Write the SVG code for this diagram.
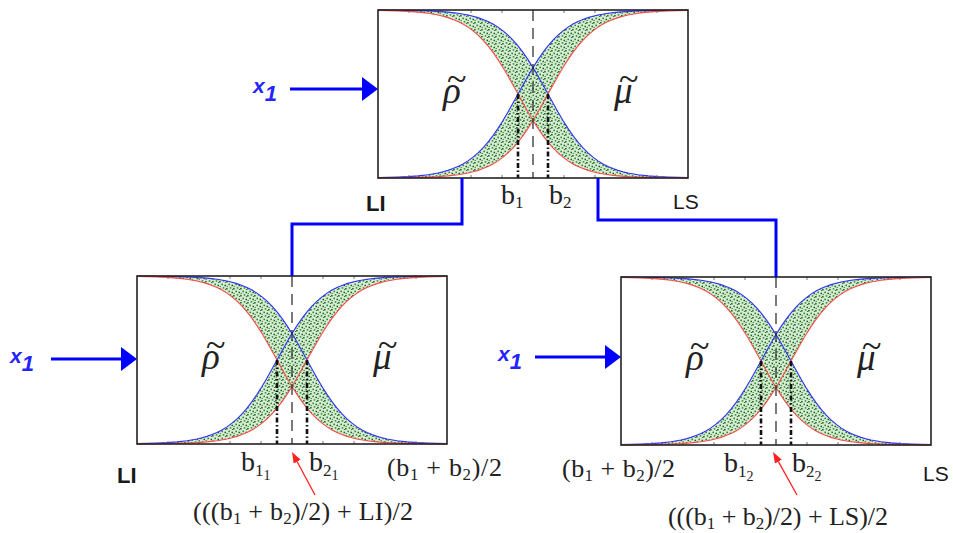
<svg xmlns="http://www.w3.org/2000/svg" xmlns:xlink="http://www.w3.org/1999/xlink" width="953" height="533" viewBox="0 0 953 533">
<style>
.lbl{font-family:"Liberation Serif","Times New Roman",serif;font-size:28px;fill:#222}
.frm{font-family:"Liberation Serif","Times New Roman",serif;font-size:26px;fill:#222}
.sub{font-size:17px}
.sub2{font-size:14px}
.sans{font-family:"Liberation Sans",Arial,sans-serif;font-size:20px;fill:#1a1a1a}
.bold{font-weight:bold}
.x1{font-family:"Liberation Sans",Arial,sans-serif;font-weight:bold;font-style:italic;fill:#2424ff;font-size:21px}
.greek{font-family:"Liberation Serif","Times New Roman",serif;font-style:italic;font-size:37px;fill:#222}
.tilde{font-family:"Liberation Serif","Times New Roman",serif;font-size:36px;fill:#222}
.blue{fill:none;stroke:#3030ff;stroke-width:1.1}
.red{fill:none;stroke:#ff4a4a;stroke-width:1.1}
.bline{stroke:#111;stroke-width:2.6;stroke-dasharray:5 2.5 1.5 2.5}
.cline{stroke:#222;stroke-width:1.2;stroke-dasharray:11 7}
.tick{stroke:#777;stroke-width:1}
</style>
<defs>
<pattern id="st1" width="7" height="7" patternUnits="userSpaceOnUse">
<rect width="7" height="7" fill="#d9ebd6"/>
<rect x="0.4" y="0.6" width="1.6" height="1.6" fill="#2a8a2a"/>
<rect x="3.5" y="1.7" width="1.5" height="1.5" fill="#146214"/>
<rect x="1.7" y="4.1" width="1.6" height="1.6" fill="#339533"/>
<rect x="5.1" y="5.0" width="1.5" height="1.5" fill="#146214"/>
<rect x="5.6" y="2.9" width="1.2" height="1.2" fill="#2a8a2a"/>
<rect x="3.9" y="6.1" width="1.2" height="0.9" fill="#1d731d"/>
</pattern>
<pattern id="st2" width="11" height="11" patternUnits="userSpaceOnUse">
<rect x="2.3" y="2.9" width="1.6" height="1.6" fill="#0f5a0f"/>
<rect x="7.5" y="0.3" width="1.4" height="1.4" fill="#2f8f2f"/>
<rect x="8.9" y="7.6" width="1.6" height="1.6" fill="#0f5a0f"/>
<rect x="4.8" y="8.3" width="1.4" height="1.4" fill="#2f8f2f"/>
<rect x="0.2" y="6.1" width="1.5" height="1.5" fill="#1f6f1f"/>
<rect x="6.2" y="4.6" width="1.3" height="1.3" fill="#1f6f1f"/>
</pattern>
<marker id="ah-blue" markerUnits="userSpaceOnUse" markerWidth="16" markerHeight="24" viewBox="0 0 16 24" refX="0" refY="12" orient="auto">
<path d="M0,0 L16,12 L0,24 z" fill="#0000ff"/>
</marker>
<marker id="ah-red" markerUnits="userSpaceOnUse" markerWidth="11" markerHeight="8" viewBox="0 0 11 8" refX="0" refY="4" orient="auto">
<path d="M0,0 L11,4 L0,8 z" fill="#ff2020"/>
</marker>
<g id="panel">
<rect x="0" y="0" width="310" height="168" fill="#ffffff"/>
<g id="band-rho">
<polygon id="rho-shape" points="0,0.10 10,0.17 20,0.25 30,0.39 40,0.59 50,0.91 60,1.39 70,2.15 80,3.29 90,5.02 95,6.21 100,7.64 105,9.40 110,11.52 115,14.08 120,17.15 125,20.81 130,25.10 135,30.11 140,35.85 145,42.37 150,49.61 155,57.54 160,66.02 165,74.91 170,84 175,93.09 180,101.98 185,110.46 190,118.39 195,125.63 200,132.15 205,137.89 210,142.90 215,147.19 220,150.85 225,153.92 230,156.48 235,158.60 240,160.36 245,161.79 250,162.98 260,164.71 270,165.85 280,166.61 290,167.09 300,167.41 310,167.61 310,167.90 300,167.83 290,167.75 280,167.61 270,167.41 260,167.09 250,166.61 240,165.85 230,164.71 220,162.98 215,161.79 210,160.36 205,158.60 200,156.48 195,153.92 190,150.85 185,147.19 180,142.90 175,137.89 170,132.15 165,125.63 160,118.39 155,110.46 150,101.98 145,93.09 140,84 135,74.91 130,66.02 125,57.54 120,49.61 115,42.37 110,35.85 105,30.11 100,25.10 95,20.81 90,17.15 85,14.08 80,11.52 75,9.40 70,7.64 65,6.21 60,5.02 50,3.29 40,2.15 30,1.39 20,0.91 10,0.59 0,0.39" fill="url(#st1)"/>
<use xlink:href="#rho-shape" href="#rho-shape" fill="url(#st2)"/>
</g>
<g id="band-mu">
<polygon id="mu-shape" points="0,167.61 10,167.41 20,167.09 30,166.61 40,165.85 50,164.71 60,162.98 65,161.79 70,160.36 75,158.60 80,156.48 85,153.92 90,150.85 95,147.19 100,142.90 105,137.89 110,132.15 115,125.63 120,118.39 125,110.46 130,101.98 135,93.09 140,84 145,74.91 150,66.02 155,57.54 160,49.61 165,42.37 170,35.85 175,30.11 180,25.10 185,20.81 190,17.15 195,14.08 200,11.52 205,9.40 210,7.64 215,6.21 220,5.02 230,3.29 240,2.15 250,1.39 260,0.91 270,0.59 280,0.39 290,0.25 300,0.17 310,0.10 310,0.39 300,0.59 290,0.91 280,1.39 270,2.15 260,3.29 250,5.02 245,6.21 240,7.64 235,9.40 230,11.52 225,14.08 220,17.15 215,20.81 210,25.10 205,30.11 200,35.85 195,42.37 190,49.61 185,57.54 180,66.02 175,74.91 170,84 165,93.09 160,101.98 155,110.46 150,118.39 145,125.63 140,132.15 135,137.89 130,142.90 125,147.19 120,150.85 115,153.92 110,156.48 105,158.60 100,160.36 95,161.79 90,162.98 80,164.71 70,165.85 60,166.61 50,167.09 40,167.41 30,167.61 20,167.75 10,167.83 0,167.90" fill="url(#st1)"/>
<use xlink:href="#mu-shape" href="#mu-shape" fill="url(#st2)"/>
</g>
<polyline class="blue" points="0,0.10 10,0.17 20,0.25 30,0.39 40,0.59 50,0.91 60,1.39 70,2.15 80,3.29 90,5.02 95,6.21 100,7.64 105,9.40 110,11.52 115,14.08 120,17.15 125,20.81 130,25.10 135,30.11 140,35.85 145,42.37 150,49.61 155,57.54 160,66.02 165,74.91 170,84 175,93.09 180,101.98 185,110.46 190,118.39 195,125.63 200,132.15 205,137.89 210,142.90 215,147.19 220,150.85 225,153.92 230,156.48 235,158.60 240,160.36 245,161.79 250,162.98 260,164.71 270,165.85 280,166.61 290,167.09 300,167.41 310,167.61"/>
<polyline class="red" points="0,0.39 10,0.59 20,0.91 30,1.39 40,2.15 50,3.29 60,5.02 65,6.21 70,7.64 75,9.40 80,11.52 85,14.08 90,17.15 95,20.81 100,25.10 105,30.11 110,35.85 115,42.37 120,49.61 125,57.54 130,66.02 135,74.91 140,84 145,93.09 150,101.98 155,110.46 160,118.39 165,125.63 170,132.15 175,137.89 180,142.90 185,147.19 190,150.85 195,153.92 200,156.48 205,158.60 210,160.36 215,161.79 220,162.98 230,164.71 240,165.85 250,166.61 260,167.09 270,167.41 280,167.61 290,167.75 300,167.83 310,167.90"/>
<polyline class="blue" points="0,167.61 10,167.41 20,167.09 30,166.61 40,165.85 50,164.71 60,162.98 65,161.79 70,160.36 75,158.60 80,156.48 85,153.92 90,150.85 95,147.19 100,142.90 105,137.89 110,132.15 115,125.63 120,118.39 125,110.46 130,101.98 135,93.09 140,84 145,74.91 150,66.02 155,57.54 160,49.61 165,42.37 170,35.85 175,30.11 180,25.10 185,20.81 190,17.15 195,14.08 200,11.52 205,9.40 210,7.64 215,6.21 220,5.02 230,3.29 240,2.15 250,1.39 260,0.91 270,0.59 280,0.39 290,0.25 300,0.17 310,0.10"/>
<polyline class="red" points="0,167.90 10,167.83 20,167.75 30,167.61 40,167.41 50,167.09 60,166.61 70,165.85 80,164.71 90,162.98 95,161.79 100,160.36 105,158.60 110,156.48 115,153.92 120,150.85 125,147.19 130,142.90 135,137.89 140,132.15 145,125.63 150,118.39 155,110.46 160,101.98 165,93.09 170,84 175,74.91 180,66.02 185,57.54 190,49.61 195,42.37 200,35.85 205,30.11 210,25.10 215,20.81 220,17.15 225,14.08 230,11.52 235,9.40 240,7.64 245,6.21 250,5.02 260,3.29 270,2.15 280,1.39 290,0.91 300,0.59 310,0.39"/>
<line class="cline" x1="155" y1="0" x2="155" y2="168"/>
<line class="bline" x1="140" y1="84" x2="140" y2="168"/>
<line class="bline" x1="170" y1="84" x2="170" y2="168"/>
<path class="tick" d="M31,0v3M62,0v3M93,0v3M124,0v3M186,0v3M217,0v3M248,0v3M279,0v3M31,168v-3M62,168v-3M93,168v-3M124,168v-3M186,168v-3M217,168v-3M248,168v-3M279,168v-3"/>
<rect x="0" y="0" width="310" height="168" fill="none" stroke="#222" stroke-width="1.6"/>
<text class="greek" x="65" y="93">ρ</text>
<text class="tilde" x="69" y="81">~</text>
<text class="greek" x="236" y="93">μ</text>
<text class="tilde" x="241" y="81">~</text>
</g>
</defs>

<g id="node-root">
<use xlink:href="#panel" href="#panel" x="378" y="10"/>
<text class="sans bold" x="366" y="211" style="font-size:22px">LI</text>
<text class="sans" x="673" y="209" style="font-size:21px">LS</text>
<text class="lbl" x="501" y="204">b<tspan class="sub" dy="4">1</tspan></text>
<text class="lbl" x="549" y="204">b<tspan class="sub" dy="4">2</tspan></text>
</g>

<g id="node-left">
<use xlink:href="#panel" href="#panel" x="137" y="276"/>
<text class="sans bold" x="117" y="483" style="font-size:22px">LI</text>
<text class="lbl" x="241" y="471">b<tspan class="sub" dy="5">1</tspan><tspan class="sub2" dy="4">1</tspan></text>
<text class="lbl" x="309" y="471">b<tspan class="sub" dy="5">2</tspan><tspan class="sub2" dy="4">1</tspan></text>
<text class="frm" x="387" y="476" textLength="115" lengthAdjust="spacing">(b<tspan class="sub" dy="4">1</tspan><tspan dy="-4"> + b</tspan><tspan class="sub" dy="4">2</tspan><tspan dy="-4">)/2</tspan></text>
<text class="frm" x="193" y="520" textLength="220" lengthAdjust="spacing">(((b<tspan class="sub" dy="4">1</tspan><tspan dy="-4"> + b</tspan><tspan class="sub" dy="4">2</tspan><tspan dy="-4">)/2) + LI)/2</tspan></text>
</g>

<g id="node-right">
<use xlink:href="#panel" href="#panel" x="621" y="277"/>
<text class="sans" x="923" y="481" style="font-size:21px">LS</text>
<text class="lbl" x="724" y="472">b<tspan class="sub" dy="5">1</tspan><tspan class="sub2" dy="4">2</tspan></text>
<text class="lbl" x="792" y="472">b<tspan class="sub" dy="5">2</tspan><tspan class="sub2" dy="4">2</tspan></text>
<text class="frm" x="562" y="477" textLength="113" lengthAdjust="spacing">(b<tspan class="sub" dy="4">1</tspan><tspan dy="-4"> + b</tspan><tspan class="sub" dy="4">2</tspan><tspan dy="-4">)/2</tspan></text>
<text class="frm" x="668" y="525" textLength="220" lengthAdjust="spacing">(((b<tspan class="sub" dy="4">1</tspan><tspan dy="-4"> + b</tspan><tspan class="sub" dy="4">2</tspan><tspan dy="-4">)/2) + LS)/2</tspan></text>
</g>

<g id="inputs">
<text class="x1" x="253" y="93">x<tspan dy="8" style="font-size:22px">1</tspan></text>
<text class="x1" x="10" y="363">x<tspan dy="8" style="font-size:22px">1</tspan></text>
<text class="x1" x="498" y="361">x<tspan dy="8" style="font-size:22px">1</tspan></text>
</g>

<g id="connectors">
<g fill="none" stroke="#0000ff" stroke-width="3">
<path d="M462,178 V224 H292 V276"/>
<path d="M598,178 V220 H776 V277"/>
<line x1="290" y1="89" x2="362" y2="89" marker-end="url(#ah-blue)"/>
<line x1="51" y1="359" x2="121" y2="359" marker-end="url(#ah-blue)"/>
<line x1="535" y1="357" x2="605" y2="357" marker-end="url(#ah-blue)"/>
</g>
<g fill="none" stroke="#ff2020" stroke-width="1.3">
<line x1="315" y1="495" x2="297.2" y2="461.7" marker-end="url(#ah-red)"/>
<line x1="797" y1="495" x2="778.4" y2="461.6" marker-end="url(#ah-red)"/>
</g>
</g>
</svg>
